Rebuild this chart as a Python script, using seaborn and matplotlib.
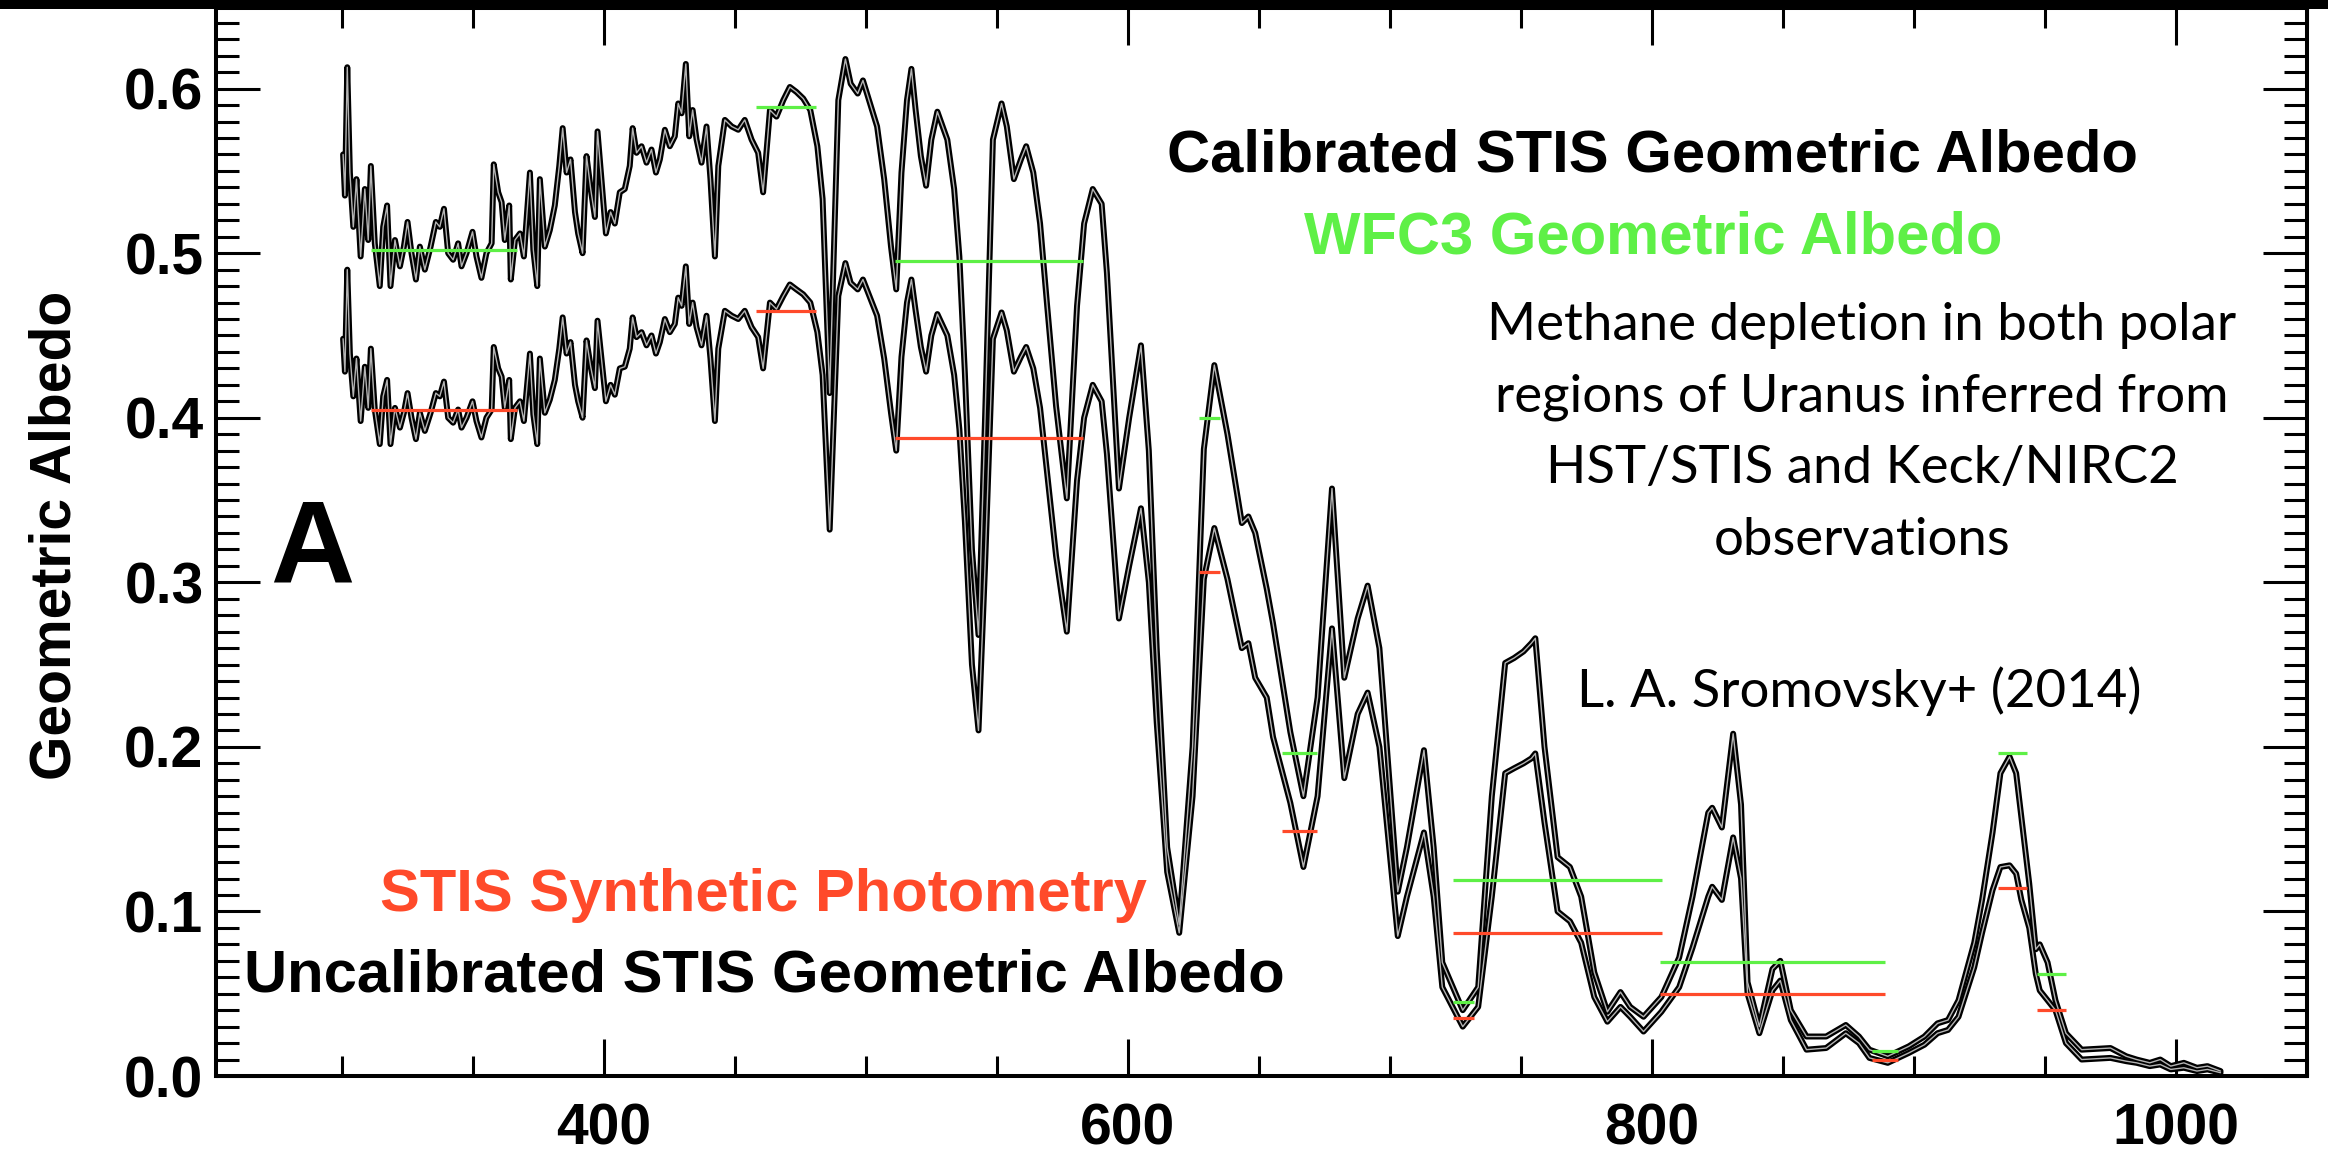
import matplotlib
matplotlib.use("Agg")
import matplotlib.pyplot as plt
from matplotlib.patches import Rectangle
from matplotlib.ticker import MultipleLocator, FormatStrFormatter
import numpy as np
import pandas as pd
import seaborn as sns

# Wavelength grid (nm)
wavelength = [
    300.5, 301.2, 302.1, 303.1, 304.4, 305.6, 307.2, 308.8, 310.1, 311.1,
    312.6, 314.5, 315.8, 317.3, 318.6, 320.3, 322.2, 323.7, 325.1, 326.6,
    328.3, 329.8, 331.7, 333.9, 335.9, 337.4, 339.0, 340.6, 342.5, 344.4,
    345.7, 347.6, 349.9, 351.4, 353.3, 355.2, 357.2, 358.0, 359.7, 361.0,
    362.2, 363.9, 364.5, 366.1, 368.0, 369.5, 371.8, 373.1, 374.6, 375.6,
    377.5, 379.4, 381.3, 383.0, 384.3, 385.8, 387.3, 389.0, 390.2, 391.9,
    393.4, 395.0, 396.6, 397.6, 399.1, 400.8, 402.6, 404.2, 406.1, 408.0,
    409.9, 411.0, 412.5, 414.4, 416.3, 418.2, 419.9, 421.4, 423.3, 425.2,
    427.1, 428.4, 429.7, 431.3, 432.6, 433.9, 435.4, 437.3, 439.2, 440.7,
    442.4, 443.7, 446.2, 448.8, 451.3, 453.8, 456.4, 458.9, 460.8, 463.4,
    465.9, 468.5, 471.0, 473.5, 476.1, 478.8, 481.5, 483.5, 486.2, 489.5,
    492.2, 494.2, 496.9, 498.9, 501.6, 504.3, 507.0, 509.6, 511.6, 513.6,
    515.7, 517.4, 519.0, 521.0, 523.0, 525.0, 527.3, 531.1, 533.7, 535.7,
    537.8, 540.5, 543.0, 545.5, 548.5, 551.8, 553.8, 556.5, 559.2, 561.2,
    563.9, 566.5, 569.2, 572.6, 576.7, 580.6, 583.3, 586.6, 590.0, 592.0,
    596.6, 600.5, 605.0, 608.0, 611.0, 615.0, 619.6, 624.7, 629.0, 633.0,
    638.0, 643.5, 646.0, 648.6, 653.0, 655.4, 662.0, 667.0, 672.4, 677.9,
    682.6, 687.7, 691.5, 696.0, 703.0, 706.5, 713.0, 716.7, 720.0, 727.8,
    733.7, 738.9, 744.0, 747.4, 751.0, 754.0, 755.5, 759.0, 764.0, 768.7,
    773.0, 778.0, 783.0, 788.0, 791.7, 796.8, 803.6, 810.4, 815.5, 821.5,
    823.0, 826.7, 831.0, 834.0, 836.5, 841.0, 846.0, 849.0, 853.0, 859.0,
    866.5, 874.0, 879.0, 883.0, 890.0, 898.0, 904.0, 909.0, 913.0, 917.0,
    923.0, 926.0, 930.0, 933.0, 936.5, 939.0, 941.0, 944.0, 946.5, 948.0,
    951.0, 954.0, 958.0, 964.0, 975.0, 981.0, 985.0, 990.0, 994.0, 998.0,
    1003.0, 1008.0, 1012.0, 1017.0,
]

# Calibrated STIS geometric albedo
calibrated = [
    0.560, 0.535, 0.613, 0.549, 0.516, 0.545, 0.498, 0.539, 0.508, 0.553,
    0.506, 0.480, 0.516, 0.529, 0.480, 0.508, 0.492, 0.504, 0.519, 0.500,
    0.484, 0.504, 0.490, 0.504, 0.519, 0.516, 0.527, 0.500, 0.496, 0.506,
    0.492, 0.500, 0.513, 0.498, 0.485, 0.500, 0.506, 0.554, 0.537, 0.531,
    0.508, 0.529, 0.484, 0.508, 0.512, 0.498, 0.549, 0.502, 0.480, 0.545,
    0.504, 0.514, 0.529, 0.553, 0.576, 0.549, 0.557, 0.525, 0.512, 0.500,
    0.559, 0.539, 0.522, 0.574, 0.545, 0.512, 0.525, 0.518, 0.537, 0.539,
    0.553, 0.576, 0.561, 0.565, 0.555, 0.563, 0.549, 0.557, 0.575, 0.565,
    0.571, 0.591, 0.585, 0.615, 0.571, 0.587, 0.569, 0.555, 0.577, 0.545,
    0.498, 0.553, 0.581, 0.577, 0.575, 0.581, 0.569, 0.561, 0.537, 0.587,
    0.583, 0.593, 0.601, 0.598, 0.594, 0.587, 0.565, 0.533, 0.415, 0.593,
    0.618, 0.603, 0.597, 0.605, 0.591, 0.577, 0.545, 0.504, 0.478, 0.549,
    0.593, 0.612, 0.587, 0.559, 0.541, 0.569, 0.586, 0.569, 0.539, 0.498,
    0.427, 0.320, 0.268, 0.400, 0.569, 0.591, 0.577, 0.545, 0.557, 0.565,
    0.549, 0.518, 0.468, 0.407, 0.351, 0.468, 0.518, 0.539, 0.530, 0.488,
    0.357, 0.400, 0.444, 0.380, 0.260, 0.139, 0.092, 0.200, 0.381, 0.432,
    0.390, 0.336, 0.340, 0.330, 0.296, 0.275, 0.209, 0.170, 0.230, 0.357,
    0.242, 0.278, 0.298, 0.260, 0.112, 0.139, 0.198, 0.139, 0.069, 0.040,
    0.054, 0.170, 0.251, 0.254, 0.258, 0.263, 0.266, 0.200, 0.133, 0.127,
    0.109, 0.063, 0.039, 0.051, 0.042, 0.036, 0.048, 0.072, 0.109, 0.160,
    0.163, 0.151, 0.208, 0.165, 0.057, 0.030, 0.065, 0.070, 0.040, 0.024,
    0.024, 0.031, 0.024, 0.016, 0.012, 0.018, 0.024, 0.032, 0.034, 0.046,
    0.081, 0.107, 0.148, 0.184, 0.194, 0.184, 0.157, 0.117, 0.077, 0.080,
    0.069, 0.046, 0.026, 0.016, 0.017, 0.012, 0.010, 0.008, 0.010, 0.006,
    0.008, 0.005, 0.006, 0.003,
]

# Uncalibrated STIS geometric albedo
uncalibrated = [
    0.448, 0.428, 0.490, 0.439, 0.413, 0.436, 0.398, 0.431, 0.406, 0.442,
    0.405, 0.384, 0.413, 0.423, 0.384, 0.406, 0.394, 0.403, 0.415, 0.400,
    0.387, 0.403, 0.392, 0.403, 0.415, 0.413, 0.422, 0.400, 0.397, 0.405,
    0.394, 0.400, 0.410, 0.398, 0.388, 0.400, 0.405, 0.443, 0.430, 0.425,
    0.406, 0.423, 0.387, 0.406, 0.410, 0.398, 0.439, 0.402, 0.384, 0.436,
    0.403, 0.411, 0.423, 0.442, 0.461, 0.439, 0.446, 0.420, 0.410, 0.400,
    0.447, 0.431, 0.418, 0.459, 0.436, 0.410, 0.420, 0.414, 0.430, 0.431,
    0.442, 0.461, 0.449, 0.452, 0.444, 0.450, 0.439, 0.446, 0.460, 0.452,
    0.457, 0.473, 0.468, 0.492, 0.457, 0.470, 0.455, 0.444, 0.462, 0.436,
    0.398, 0.442, 0.465, 0.462, 0.460, 0.465, 0.455, 0.449, 0.430, 0.470,
    0.466, 0.474, 0.481, 0.478, 0.475, 0.470, 0.452, 0.426, 0.332, 0.474,
    0.494, 0.482, 0.478, 0.484, 0.473, 0.462, 0.436, 0.403, 0.380, 0.437,
    0.470, 0.484, 0.465, 0.443, 0.428, 0.450, 0.463, 0.450, 0.426, 0.393,
    0.337, 0.250, 0.210, 0.310, 0.448, 0.464, 0.453, 0.428, 0.437, 0.443,
    0.430, 0.406, 0.366, 0.316, 0.270, 0.362, 0.400, 0.420, 0.410, 0.378,
    0.278, 0.310, 0.345, 0.300, 0.215, 0.124, 0.087, 0.170, 0.302, 0.333,
    0.302, 0.260, 0.263, 0.242, 0.230, 0.206, 0.166, 0.127, 0.170, 0.272,
    0.181, 0.220, 0.233, 0.200, 0.085, 0.109, 0.148, 0.109, 0.054, 0.030,
    0.042, 0.109, 0.184, 0.187, 0.190, 0.193, 0.196, 0.154, 0.100, 0.094,
    0.081, 0.048, 0.033, 0.042, 0.036, 0.027, 0.039, 0.054, 0.078, 0.109,
    0.115, 0.107, 0.145, 0.120, 0.050, 0.026, 0.052, 0.058, 0.034, 0.016,
    0.017, 0.026, 0.020, 0.011, 0.008, 0.014, 0.019, 0.026, 0.028, 0.036,
    0.066, 0.087, 0.113, 0.127, 0.128, 0.123, 0.107, 0.090, 0.062, 0.052,
    0.046, 0.040, 0.020, 0.010, 0.011, 0.009, 0.008, 0.006, 0.007, 0.004,
    0.005, 0.003, 0.004, 0.002,
]

# Filter band-passes (nm) and band-averaged albedos
band_start = [311, 458, 511, 627, 659, 724, 724, 803, 884, 932, 947]
band_end = [367, 481, 583, 635, 672, 732, 804, 889, 894, 943, 958]
wfc3_albedo = [0.502, 0.589, 0.495, 0.400, 0.196, 0.045, 0.119, 0.069, 0.015, 0.196, 0.062]
stis_synthetic = [0.405, 0.465, 0.388, 0.306, 0.149, 0.035, 0.087, 0.050, 0.010, 0.114, 0.040]

x_ticks = [400, 600, 800, 1000]

GREEN = "#5ef046"
RED = "#ff4a2a"

sns.set_theme(style="white")
plt.rcParams["font.family"] = ["Liberation Sans", "DejaVu Sans"]
plt.rcParams["font.weight"] = "bold"

W, H = 2328, 1156
fig = plt.figure(figsize=(W / 100, H / 100), dpi=100)
fig.patch.set_facecolor("white")
# axes box in pixels: left 216, right 2307, top 8, bottom 1076
ax = fig.add_axes([216 / W, (H - 1076) / H, (2307 - 216) / W, (1076 - 8) / H])
ax.set_facecolor("white")

n = len(wavelength)
spectra = pd.DataFrame({
    "wavelength": wavelength * 2,
    "albedo": calibrated + uncalibrated,
    "series": ["Calibrated"] * n + ["Uncalibrated"] * n,
})

# hollow spectrum lines: dark outer stroke with a pale core
sns.lineplot(data=spectra, x="wavelength", y="albedo", hue="series",
             palette={"Calibrated": "black", "Uncalibrated": "black"},
             estimator=None, sort=False, linewidth=4.3, legend=False, ax=ax, zorder=2)
sns.lineplot(data=spectra, x="wavelength", y="albedo", hue="series",
             palette={"Calibrated": "#b4b4b4", "Uncalibrated": "#b4b4b4"},
             estimator=None, sort=False, linewidth=1.0, legend=False, ax=ax, zorder=3)

ax.hlines(wfc3_albedo, band_start, band_end, colors=GREEN, linewidth=2.3, zorder=4)
ax.hlines(stis_synthetic, band_start, band_end, colors=RED, linewidth=2.3, zorder=4)

ax.set_xlim(252, 1050)
ax.set_ylim(0, 0.649)
ax.set_xticks(x_ticks)
ax.xaxis.set_minor_locator(MultipleLocator(50))
ax.yaxis.set_major_locator(MultipleLocator(0.1))
ax.yaxis.set_minor_locator(MultipleLocator(0.01))
ax.yaxis.set_major_formatter(FormatStrFormatter("%.1f"))

ax.tick_params(axis="both", which="both", direction="in", top=True, right=True,
               bottom=True, left=True, width=2.2, color="black", labelsize=41,
               labelcolor="black")
ax.tick_params(axis="x", which="major", length=26.6, pad=19)
ax.tick_params(axis="x", which="minor", length=14.4)
ax.tick_params(axis="y", which="major", length=31.7, pad=9)
ax.tick_params(axis="y", which="minor", length=16.6)
for sp in ax.spines.values():
    sp.set_visible(True)
    sp.set_color("black")
    sp.set_linewidth(2.9)

ax.set_xlabel("")
ax.set_ylabel("Geometric Albedo", fontsize=41, fontweight="bold", color="black")
ax.yaxis.label.set_va("center")
ax.yaxis.set_label_coords((56 - 216) / 2091, 0.5066)


def px(x, y):
    return (x - 216) / 2091, (1076 - y) / 1068


kw = dict(transform=ax.transAxes, fontsize=43, fontweight="bold", va="baseline", ha="left")
ax.text(*px(1167, 172), "Calibrated STIS Geometric Albedo", color="black", **kw)
ax.text(*px(1304, 254), "WFC3 Geometric Albedo", color=GREEN, **kw)
ax.text(*px(380, 911), "STIS Synthetic Photometry", color=RED, **kw)
ax.text(*px(244, 992), "Uncalibrated STIS Geometric Albedo", color="black", **kw)
ax.text(*px(270, 583), "A", color="black", transform=ax.transAxes, fontsize=84,
        fontweight="bold", va="baseline", ha="left")

note_kw = dict(transform=ax.transAxes, fontsize=38, fontweight="normal",
               family=["Lato", "DejaVu Sans"], ha="center", va="baseline", color="black")
note_lines = ["Methane depletion in both polar",
              "regions of Uranus inferred from",
              "HST/STIS and Keck/NIRC2",
              "observations"]
for line, base in zip(note_lines, [340, 412, 483, 555]):
    ax.text(*px(1862, base), line, **note_kw)
ax.text(*px(1859, 707), "L. A. Sromovsky+ (2014)", **note_kw)

# dark band along the top edge
fig.patches.append(Rectangle((0, 1 - 9 / H), 1, 9 / H, transform=fig.transFigure,
                             facecolor="black", edgecolor="none", zorder=10))

fig.savefig("out.png", dpi=100, facecolor="white")
